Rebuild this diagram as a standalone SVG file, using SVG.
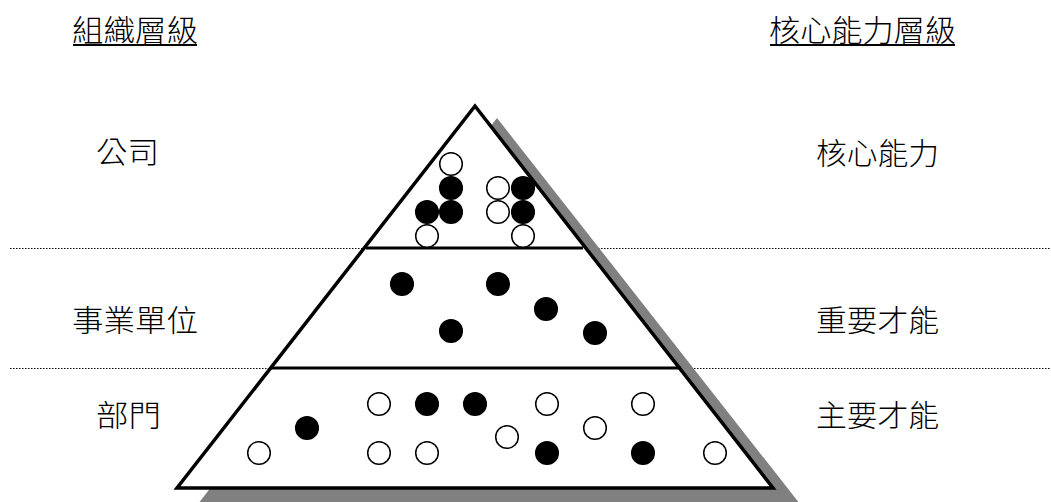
<svg xmlns="http://www.w3.org/2000/svg" width="1051" height="502" viewBox="0 0 1051 502">
<style>
.t{font-family:"Noto Sans CJK TC","Noto Sans CJK SC",sans-serif;font-size:30px;font-weight:300;fill:#000;}
.o{fill:#fff;stroke:#000;stroke-width:1.5;}
.f{fill:#000;stroke:#000;stroke-width:1.5;}
.dot{stroke:#000;stroke-width:1;stroke-dasharray:1.5 1.5;fill:none;}
.div{stroke:#000;stroke-width:3.2;}
</style>
<rect width="1051" height="502" fill="#fff"/>
<g id="guides">
<line class="dot" x1="10" y1="248.5" x2="1051" y2="248.5"/>
<line class="dot" x1="10" y1="368.5" x2="1051" y2="368.5"/>
</g>
<g id="pyramid">
<polygon points="497,118 198,504 800,504" fill="#808080"/>
<polygon points="475,106 177,488 773,488" fill="#fff" stroke="#000" stroke-width="3.5" stroke-linejoin="miter"/>
<line class="div" x1="366" y1="248" x2="583" y2="248"/>
<line class="div" x1="270" y1="368" x2="681" y2="368"/>
</g>
<g id="level-company">
<circle class="o" cx="451" cy="164" r="11.3"/>
<circle class="f" cx="451" cy="188" r="11.3"/>
<circle class="f" cx="427" cy="212" r="11.3"/>
<circle class="f" cx="451" cy="212" r="11.3"/>
<circle class="o" cx="427" cy="236" r="11.3"/>
<circle class="o" cx="498" cy="188" r="11.3"/>
<circle class="o" cx="498" cy="212" r="11.3"/>
<circle class="f" cx="523" cy="188" r="11.3"/>
<circle class="f" cx="523" cy="212" r="11.3"/>
<circle class="o" cx="523" cy="236" r="11.3"/>
</g>
<g id="level-business">
<circle class="f" cx="402" cy="284" r="11.3"/>
<circle class="f" cx="498" cy="284" r="11.3"/>
<circle class="f" cx="546" cy="309" r="11.3"/>
<circle class="f" cx="451" cy="331" r="11.3"/>
<circle class="f" cx="595" cy="333" r="11.3"/>
</g>
<g id="level-department">
<circle class="o" cx="259" cy="453" r="11.3"/>
<circle class="f" cx="307" cy="428" r="11.3"/>
<circle class="o" cx="379" cy="404" r="11.3"/>
<circle class="f" cx="427" cy="404" r="11.3"/>
<circle class="o" cx="379" cy="453" r="11.3"/>
<circle class="o" cx="427" cy="453" r="11.3"/>
<circle class="f" cx="475" cy="404" r="11.3"/>
<circle class="o" cx="507" cy="437" r="11.3"/>
<circle class="o" cx="547" cy="404" r="11.3"/>
<circle class="f" cx="547" cy="453" r="11.3"/>
<circle class="o" cx="595" cy="428" r="11.3"/>
<circle class="o" cx="643" cy="404" r="11.3"/>
<circle class="f" cx="643" cy="453" r="11.3"/>
<circle class="o" cx="715" cy="453" r="11.3"/>
</g>
<g id="headers">
<text class="t" x="72" y="41" textLength="126" lengthAdjust="spacingAndGlyphs">組織層級</text>
<line x1="73" y1="45" x2="197" y2="45" stroke="#000" stroke-width="2"/>
<text class="t" x="769" y="41" textLength="187" lengthAdjust="spacingAndGlyphs">核心能力層級</text>
<line x1="770" y1="45" x2="955" y2="45" stroke="#000" stroke-width="2"/>
</g>
<g id="labels-left">
<text class="t" x="96" y="163" textLength="63" lengthAdjust="spacingAndGlyphs">公司</text>
<text class="t" x="72" y="331" textLength="126" lengthAdjust="spacingAndGlyphs">事業單位</text>
<text class="t" x="96" y="426" textLength="65" lengthAdjust="spacingAndGlyphs">部門</text>
</g>
<g id="labels-right">
<text class="t" x="816" y="164" textLength="123" lengthAdjust="spacingAndGlyphs">核心能力</text>
<text class="t" x="816" y="331" textLength="123" lengthAdjust="spacingAndGlyphs">重要才能</text>
<text class="t" x="816" y="426" textLength="123" lengthAdjust="spacingAndGlyphs">主要才能</text>
</g>
</svg>
